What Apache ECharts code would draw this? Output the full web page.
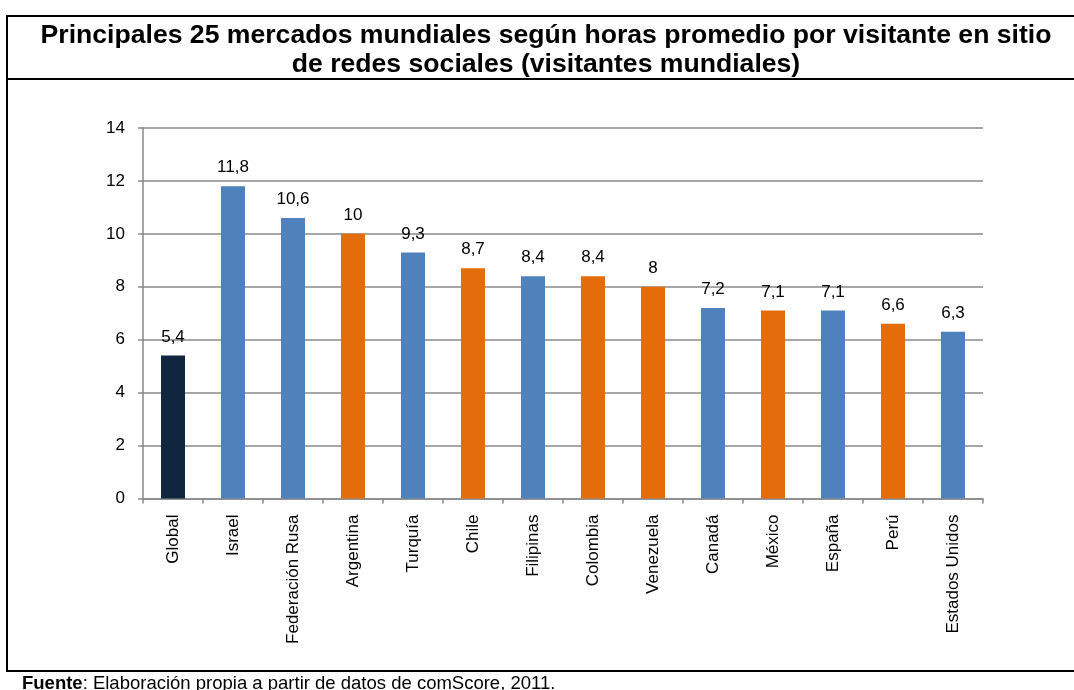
<!DOCTYPE html>
<html>
<head>
<meta charset="utf-8">
<script src="https://cdn.jsdelivr.net/npm/echarts@6/dist/echarts.min.js"></script>
<style>
    html, body {
        margin: 0;
        padding: 0;
        background: #fff;
        overflow: hidden;
    }

    .frame {
        position: absolute;
        left: 6px;
        top: 15px;
        width: 1080px;
        height: 653px;
        border-left: 2px solid #000;
        border-top: 2px solid #000;
        border-bottom: 2px solid #000;
        pointer-events: none;
    }

    .title-line {
        position: absolute;
        left: 6px;
        top: 78px;
        width: 1080px;
        border-top: 2px solid #000;
    }

    #chart {
        width: 1074px;
        height: 690px;
    }
</style>
</head>
<body>
<div id="chart"></div>
<div class="frame"></div>
<div class="title-line"></div>

<script>
    // datos
    const paises = ['Global', 'Israel', 'Federación Rusa', 'Argentina', 'Turquía', 'Chile', 'Filipinas',
        'Colombia', 'Venezuela', 'Canadá', 'México', 'España', 'Perú', 'Estados Unidos'];
    const horas = [5.4, 11.8, 10.6, 10, 9.3, 8.7, 8.4, 8.4, 8, 7.2, 7.1, 7.1, 6.6, 6.3];
    // g = global, a = azul, n = naranja
    const grupos = ['g', 'a', 'a', 'n', 'a', 'n', 'a', 'n', 'n', 'a', 'n', 'a', 'n', 'a'];
    const yTicks = [0, 2, 4, 6, 8, 10, 12, 14];

    const colores = {
        g: '#10253F',
        a: '#4F81BD',
        n: '#E46C0A'
    };
    const fuente = '"Liberation Sans", Arial, sans-serif';

    let chart = echarts.init(document.getElementById('chart'));

    let option = {
        animation: false,
        textStyle: {
            fontFamily: fuente
        },
        title: [{
            text: 'Principales 25 mercados mundiales según horas promedio por visitante en sitio\nde redes sociales (visitantes mundiales)',
            left: 546,
            textAlign: 'center',
            top: 21,
            padding: 0,
            textStyle: {
                fontSize: 26.6,
                fontWeight: 'bold',
                lineHeight: 29,
                color: '#000',
                fontFamily: fuente
            }
        }, {
            text: '{b|Fuente}: Elaboración propia a partir de datos de comScore, 2011.',
            left: 22,
            top: 674,
            padding: 0,
            textStyle: {
                fontSize: 18.5,
                fontWeight: 'normal',
                color: '#000',
                fontFamily: fuente,
                rich: {
                    b: {
                        fontSize: 18.5,
                        fontWeight: 'bold',
                        color: '#000',
                        fontFamily: fuente
                    }
                }
            }
        }],
        grid: {
            left: 143,
            right: 91,
            top: 128,
            bottom: 191.5,
            containLabel: false
        },
        xAxis: {
            type: 'category',
            data: paises,
            boundaryGap: true,
            axisLine: {
                lineStyle: {
                    color: '#898989',
                    width: 1.5
                }
            },
            axisTick: {
                show: true,
                length: 5,
                lineStyle: {
                    color: '#898989',
                    width: 1.5
                }
            },
            axisLabel: {
                interval: 0,
                rotate: 90,
                margin: 16,
                fontSize: 17,
                color: '#000'
            }
        },
        yAxis: {
            type: 'value',
            min: yTicks[0],
            max: yTicks[yTicks.length - 1],
            interval: 2,
            axisLine: {
                show: true,
                lineStyle: {
                    color: '#898989',
                    width: 1.5
                }
            },
            axisTick: {
                show: true,
                length: 5,
                lineStyle: {
                    color: '#898989',
                    width: 1.5
                }
            },
            axisLabel: {
                margin: 18,
                fontSize: 17,
                color: '#000'
            },
            splitLine: {
                lineStyle: {
                    color: '#898989',
                    width: 1.5
                }
            }
        },
        series: [{
            type: 'bar',
            barWidth: '40%',
            data: horas.map((v, i) => ({
                value: v,
                itemStyle: {
                    color: colores[grupos[i]]
                }
            })),
            label: {
                show: true,
                position: 'top',
                distance: 10,
                fontSize: 17,
                color: '#000',
                formatter: (p) => String(p.value).replace('.', ',')
            }
        }]
    };

    chart.setOption(option);
    window.onresize = chart.resize;
</script>
</body>
</html>
